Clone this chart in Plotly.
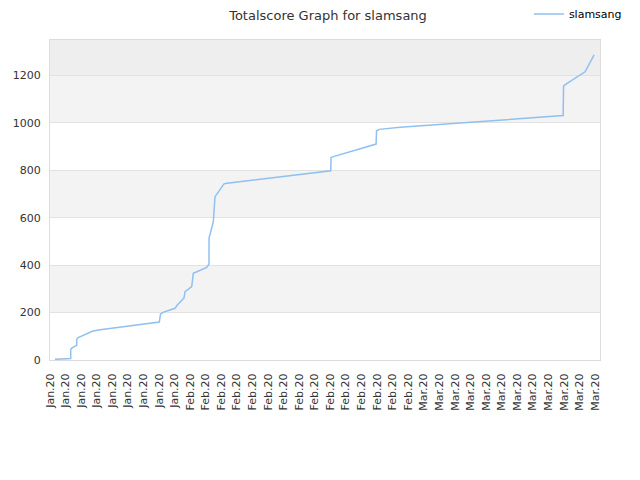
import plotly.graph_objects as go

# Data (timestamp, total score)
dates = [
    "2020-01-14 15:24", "2020-01-16 15:49", "2020-01-16 15:50", "2020-01-16 20:44",
    "2020-01-17 10:18", "2020-01-17 10:19", "2020-01-17 13:23", "2020-01-18 06:39",
    "2020-01-18 18:59", "2020-01-19 10:23", "2020-01-20 04:53", "2020-01-28 00:55",
    "2020-01-28 04:36", "2020-01-28 12:00", "2020-01-30 01:18", "2020-01-30 08:24",
    "2020-01-31 05:02", "2020-01-31 08:09", "2020-02-01 04:48", "2020-02-01 09:43",
    "2020-02-03 03:01", "2020-02-03 10:05", "2020-02-03 10:06", "2020-02-03 16:16",
    "2020-02-03 23:22", "2020-02-04 04:34", "2020-02-04 14:47", "2020-02-05 08:21",
    "2020-02-05 17:36", "2020-02-19 01:12", "2020-02-19 02:10", "2020-02-19 09:16",
    "2020-02-24 20:53", "2020-02-24 22:24", "2020-02-25 06:58", "2020-02-27 22:48",
    "2020-03-19 21:21", "2020-03-19 22:48", "2020-03-20 09:36", "2020-03-22 17:02",
    "2020-03-23 20:53",
]
scores = [
    3, 6, 45, 52,
    62, 87, 94, 104,
    113, 121, 127, 160,
    193, 201, 218, 232,
    262, 288, 310, 366,
    391, 405, 513, 549,
    584, 689, 710, 743,
    746, 798, 854, 858,
    911, 967, 973, 982,
    1031, 1156, 1167, 1216,
    1287,
]
series_name = "slamsang"
title_text = "Totalscore Graph for slamsang"
y_ticks = [0, 200, 400, 600, 800, 1000, 1200]

fig = go.Figure()
fig.add_trace(go.Scatter(
    x=dates, y=scores, mode="lines", name=series_name,
    line=dict(color="#90c0f0", width=1.5),
))

# background bands
bands = [(200, 400, "#f3f3f3"), (600, 800, "#f3f3f3"),
         (1000, 1200, "#f3f3f3"), (1200, 1350, "#eeeeee")]
for y0, y1, c in bands:
    fig.add_shape(type="rect", xref="paper", yref="y", x0=0, x1=1, y0=y0, y1=y1,
                  fillcolor=c, line_width=0, layer="below")

font = "DejaVu Sans, sans-serif"
fig.update_layout(
    width=640, height=480,
    margin=dict(l=42, r=48, t=32, b=128, autoexpand=False),
    paper_bgcolor="white", plot_bgcolor="white",
    title=dict(text=title_text, x=0.5, xanchor="center", y=0.985, yanchor="middle",
               font=dict(family=font, size=13, color="#333333")),
    legend=dict(xref="container", yref="container", x=0.967, xanchor="right",
                y=0.9875, yanchor="middle",
                font=dict(family=font, size=11, color="#000000"),
                bgcolor="rgba(0,0,0,0)", itemwidth=30),
    showlegend=True,
    font=dict(family=font, size=11, color="#333333"),
)
fig.update_xaxes(
    type="date", range=["2020-01-14 00:00", "2020-03-24 15:00"],
    tick0="2020-01-14", dtick=2 * 86400000, tickformat="%b.%y",
    tickangle=-90, showgrid=False, zeroline=False, automargin=False,
    showline=True, linecolor="#dddddd", mirror=True, ticks="",
    ticklabelstandoff=8,
    tickfont=dict(family=font, size=11, color="#333333"),
)
fig.update_yaxes(
    range=[0, 1350], tickvals=y_ticks, showgrid=True, gridcolor="#e2e2e2",
    zeroline=False, showline=True, linecolor="#dddddd", mirror=True, ticks="",
    automargin=False, ticklabelstandoff=6,
    tickfont=dict(family=font, size=11, color="#333333"),
)
fig.write_html("out.html")
